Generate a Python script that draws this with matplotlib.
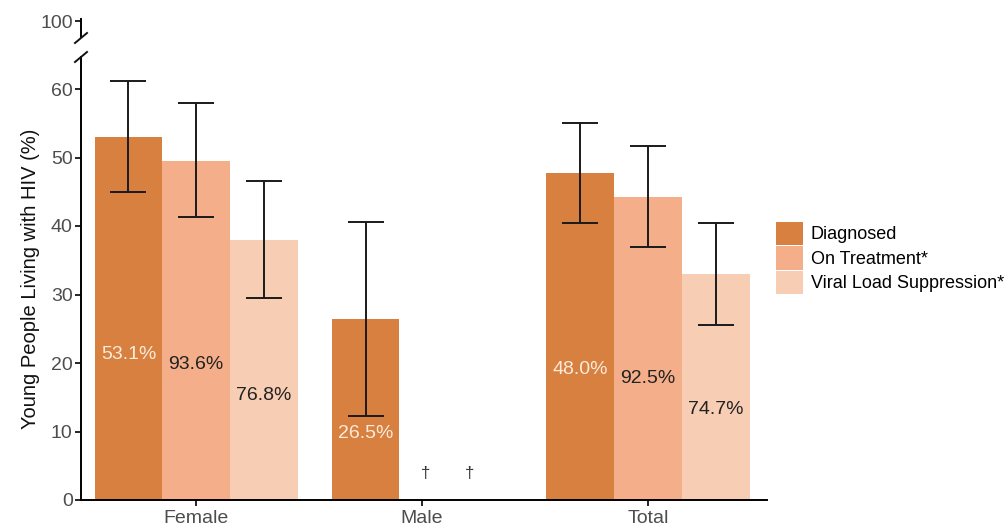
import numpy as np
import matplotlib
matplotlib.use("Agg")
import matplotlib.pyplot as plt
from matplotlib.patches import Patch
from matplotlib.lines import Line2D

plt.rcParams["font.family"] = ["Liberation Sans", "DejaVu Sans"]

# ── Data ──────────────────────────────────────────────────────────────────────
groups = ["Female", "Male", "Total"]
series = ["Diagnosed", "On Treatment*", "Viral Load Suppression*"]

diagnosed      = [53.0, 26.4, 47.8]
diagnosed_lo   = [44.9, 12.3, 40.4]
diagnosed_hi   = [61.2, 40.6, 55.1]
on_treat       = [49.5, np.nan, 44.2]
on_treat_lo    = [41.3, np.nan, 36.9]
on_treat_hi    = [58.0, np.nan, 51.7]
vls            = [38.0, np.nan, 33.0]
vls_lo         = [29.5, np.nan, 25.5]
vls_hi         = [46.6, np.nan, 40.4]

diag_labels = ["53.1%", "26.5%", "48.0%"]
ot_labels   = ["93.6%", "", "92.5%"]
vls_labels  = ["76.8%", "", "74.7%"]

colors = ["#D8803F", "#F4AE89", "#F7CDB4"]
label_colors = ["#FBEBDD", "#222222", "#222222"]

# ── Figure ────────────────────────────────────────────────────────────────────
W, H = 1008, 527
fig = plt.figure(figsize=(W / 100, H / 100), dpi=100)

def px_box(x0, y0, x1, y1):
    return [x0 / W, 1 - y1 / H, (x1 - x0) / W, (y1 - y0) / H]

ax = fig.add_axes(px_box(81, 57, 767, 500))
ax_top = fig.add_axes(px_box(81, 19, 767, 37))

ax.set_ylim(0, (500 - 57) / 6.85)
ax_top.set_ylim(100 - 16 / 6.85, 100 + 2 / 6.85)
xlim = (-0.51, 2.527)
ax.set_xlim(*xlim)
ax_top.set_xlim(*xlim)

x = np.arange(len(groups))
width = 0.3
# bar offsets within each group (male diagnosed bar sits slightly shifted)
series_offsets = [np.array([-0.3, -0.25, -0.3]),
                  np.array([0.0, 0.0, 0.0]),
                  np.array([0.3, 0.3, 0.3])]

all_vals = [(diagnosed, diagnosed_lo, diagnosed_hi, diag_labels),
            (on_treat, on_treat_lo, on_treat_hi, ot_labels),
            (vls, vls_lo, vls_hi, vls_labels)]

for s, (vals, lo, hi, labs) in enumerate(all_vals):
    vals = np.array(vals, dtype=float)
    lo = np.array(lo, dtype=float)
    hi = np.array(hi, dtype=float)
    xs = x + series_offsets[s]
    ok = np.isfinite(vals)
    ax.bar(xs[ok], vals[ok], width=width, color=colors[s], label=series[s], zorder=1)
    ax.errorbar(xs[ok], vals[ok], yerr=[vals[ok] - lo[ok], hi[ok] - vals[ok]],
                fmt="none", ecolor="#1a1a1a", elinewidth=1.4, capsize=13,
                capthick=1.4, zorder=3)
    for xi, v, lab in zip(xs[ok], vals[ok], np.array(labs)[ok]):
        yl = 0.4 * v if v > 30 else 0.37 * v
        ax.text(xi, yl, lab, ha="center", va="center", fontsize=14,
                color=label_colors[s], zorder=4)

# dagger markers for suppressed male estimates
for dx in [0.015, 0.21]:
    ax.text(1 + dx, 3.9, "\u2020", ha="center", va="center", fontsize=12, color="#333333")

# ── Axes styling ──────────────────────────────────────────────────────────────
for a in (ax, ax_top):
    a.spines["top"].set_visible(False)
    a.spines["right"].set_visible(False)
    a.spines["left"].set_linewidth(1.4)
    a.tick_params(axis="y", length=4, width=1.2, labelsize=14, labelcolor="#4d4d4d", pad=2)
ax.spines["bottom"].set_linewidth(1.4)
ax_top.spines["bottom"].set_visible(False)
ax_top.set_xticks([])
ax_top.set_yticks([100])
ax_top.patch.set_visible(False)
ax.patch.set_visible(False)

ax.set_yticks([0, 10, 20, 30, 40, 50, 60])
ax.set_xticks(x)
ax.set_xticklabels(groups)
ax.tick_params(axis="x", length=4, width=1.2, labelsize=14, labelcolor="#4d4d4d", pad=3)
ax.set_ylabel("Young People Living with HIV (%)", fontsize=14.5, color="#111111", labelpad=8)

# axis break slashes
for y0 in (43, 62):
    fig.add_artist(Line2D([75 / W, 87 / W], [1 - y0 / H, 1 - (y0 - 10) / H],
                          color="#111111", lw=1.4, transform=fig.transFigure))

# ── Legend ────────────────────────────────────────────────────────────────────
handles = [Patch(facecolor=c, edgecolor="none") for c in colors]
fig.legend(handles, series, loc="upper left", bbox_to_anchor=(772 / W, 1 - 218 / H),
           frameon=False, fontsize=13, handlelength=1.5, handleheight=1.62,
           labelspacing=0.06, handletextpad=0.45, borderaxespad=0, borderpad=0.2)

fig.savefig("out.png", dpi=100)
